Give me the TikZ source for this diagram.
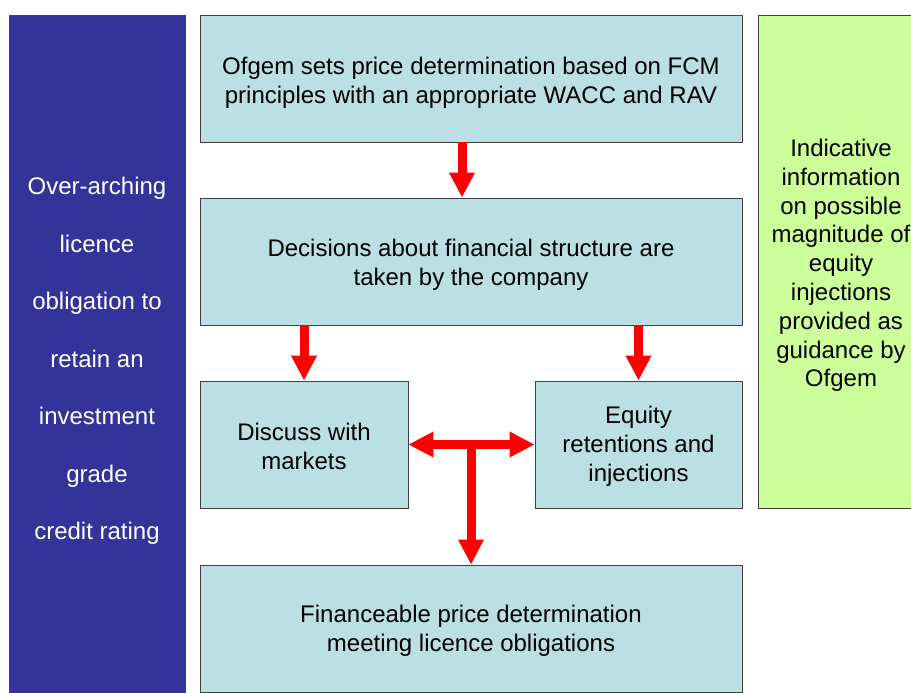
\documentclass[tikz,border=0pt]{standalone}
\usepackage{fontspec}
\setmainfont{Liberation Sans}
\usetikzlibrary{arrows.meta}
\definecolor{sideblue}{HTML}{333399}
\definecolor{stepfill}{HTML}{BBE0E3}
\definecolor{notegreen}{HTML}{CCFF99}
\begin{document}
\begin{tikzpicture}[x=1pt,y=-1pt,
  box/.style={draw=black!75,line width=0.8pt,rectangle,inner sep=0pt},
  stepbox/.style={box,fill=stepfill,minimum height=127pt},
  % centred caption inside a box, set a little below the middle
  caption/.style 2 args={label={[align=center,inner sep=0pt,
    font=\fontsize{24}{29}\selectfont,yshift=#1]center:{#2}}},
  redarrow/.style={draw=red,line width=9pt,-{Triangle[width=24pt,length=25pt]}},
  redboth/.style={draw=red,line width=9pt,{Triangle[width=24pt,length=25pt]}-{Triangle[width=24pt,length=25pt]}}]
\useasboundingbox (0,0) rectangle (911,693);
% left-hand obligation column
\node[box,fill=sideblue,minimum width=176pt,minimum height=680pt,
  label={[align=center,inner sep=0pt,text=white,font=\fontsize{24}{57.5}\selectfont,yshift=-6pt]center:{Over-arching\\licence\\obligation to\\retain an\\investment\\grade\\credit rating}}]
  (side) at (97,355) {};
% main flow
\node[stepbox,minimum width=542pt,
  caption={-4.5pt}{Ofgem sets price determination based on FCM\\principles with an appropriate WACC and RAV}]
  (top) at (471,78.5) {};
\node[stepbox,minimum width=542pt,
  caption={-3pt}{Decisions about financial structure are\\taken by the company}]
  (mid) at (471,261.5) {};
\node[stepbox,minimum width=208pt,
  caption={-1.5pt}{Discuss with\\markets}]
  (disc) at (304,444.5) {};
\node[stepbox,minimum width=207pt,
  caption={-2pt}{Equity\\retentions and\\injections}]
  (eq) at (638.5,444.5) {};
\node[stepbox,minimum width=542pt,
  caption={-2.5pt}{Financeable price determination\\meeting licence obligations}]
  (bot) at (471,628.5) {};
% right-hand guidance column
\node[box,fill=notegreen,minimum width=166pt,minimum height=493pt,
  label={[align=center,inner sep=0pt,font=\fontsize{24}{28.8}\selectfont,yshift=-4pt]center:{Indicative\\information\\on possible\\magnitude of\\equity\\injections\\provided as\\guidance by\\Ofgem}}]
  (note) at (841,261.5) {};
% connectors
\draw[redarrow] ([xshift=-9pt]top.south) -- ([xshift=-9pt]mid.north);
\draw[redarrow] (mid.south -| disc.north) -- (disc.north);
\draw[redarrow] (mid.south -| eq.north) -- (eq.north);
\draw[redboth] (disc.east) -- (eq.west);
\coordinate (tee) at (disc.east -| bot.north);
\draw[redarrow] ([yshift=-4.5pt]tee) -- (bot.north);
\end{tikzpicture}
\end{document}
